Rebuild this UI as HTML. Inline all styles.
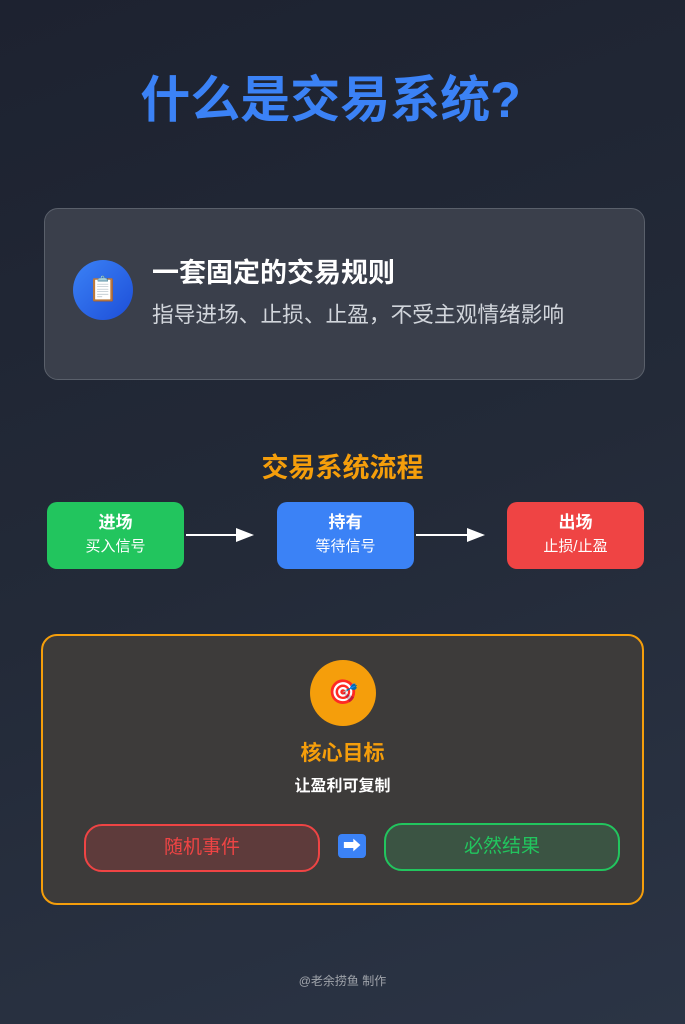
<!DOCTYPE html>
<html><head><meta charset="utf-8"><style>
*{margin:0;padding:0;box-sizing:border-box}
body{width:685px;height:1024px;overflow:hidden;background:linear-gradient(160deg,#1d2230 0%,#232a38 50%,#2b3445 100%);font-family:"Liberation Sans","Noto Sans CJK SC",sans-serif;position:relative;color:#fff}
.a{position:absolute}
.c{text-align:center}
.box{position:absolute;top:502px;width:137px;height:67px;border-radius:10px;text-align:center}
.box b{display:block;font-size:17px;margin-top:11px;line-height:20px}
.box span{display:block;font-size:15px;margin-top:5px;line-height:18px}
</style></head><body>
<div class="a c" style="left:-12px;width:685px;top:70px;font-size:50px;font-weight:bold;color:#3b82f6;line-height:60px">什么是交易系统?</div>
<div class="a" style="left:44px;top:208px;width:601px;height:172px;border-radius:14px;background:#3a3f4b;border:1.5px solid #5a606b"></div>
<div class="a c" style="left:73px;top:260px;width:60px;height:60px;border-radius:50%;background:linear-gradient(135deg,#3b82f6,#1d4ed8);font-size:24px;line-height:60px">📋</div>
<div class="a" style="left:152px;top:256px;font-size:27px;font-weight:bold;line-height:34px">一套固定的交易规则</div>
<div class="a" style="left:152px;top:301px;font-size:21.7px;color:#d1d5db;line-height:28px">指导进场、止损、止盈，不受主观情绪影响</div>
<div class="a c" style="left:0;width:685px;top:451px;font-size:27px;font-weight:bold;color:#f59e0b;line-height:34px">交易系统流程</div>
<div class="box" style="left:47px;background:#22c55e"><b>进场</b><span>买入信号</span></div>
<div class="box" style="left:277px;background:#3b82f6"><b>持有</b><span>等待信号</span></div>
<div class="box" style="left:507px;background:#ef4444"><b>出场</b><span>止损/止盈</span></div>
<svg class="a" style="left:0;top:0" width="685" height="1024">
<line x1="186" y1="535" x2="240" y2="535" stroke="#fff" stroke-width="2"/><polygon points="254,535 236,528 236,542" fill="#fff"/>
<line x1="416" y1="535" x2="470" y2="535" stroke="#fff" stroke-width="2"/><polygon points="485,535 467,528 467,542" fill="#fff"/>
</svg>
<div class="a" style="left:41px;top:634px;width:603px;height:271px;border-radius:16px;background:#3d3b3a;border:2px solid #f59e0b"></div>
<div class="a c" style="left:310px;top:660px;width:66px;height:66px;border-radius:50%;background:#f59e0b;font-size:24px;line-height:66px">🎯</div>
<div class="a c" style="left:0;width:685px;top:740px;font-size:21px;font-weight:bold;color:#f59e0b;line-height:28px">核心目标</div>
<div class="a c" style="left:0;width:685px;top:776px;font-size:16px;font-weight:bold;line-height:22px">让盈利可复制</div>
<div class="a c" style="left:84px;top:824px;width:236px;height:48px;border-radius:18px;background:#5e3b3b;border:2px solid #ef4444;color:#ef4444;font-size:19px;line-height:44px">随机事件</div>
<div class="a c" style="left:338px;top:834px;width:28px;height:24px;border-radius:4px;background:#3b82f6;font-size:18px;line-height:24px;font-weight:bold">➡</div>
<div class="a c" style="left:384px;top:823px;width:236px;height:48px;border-radius:18px;background:#3b5443;border:2px solid #22c55e;color:#22c55e;font-size:19px;line-height:44px">必然结果</div>
<div class="a c" style="left:0;width:685px;top:973px;font-size:12px;color:#a0a4ab;line-height:16px">@老余捞鱼 制作</div>
</body></html>
